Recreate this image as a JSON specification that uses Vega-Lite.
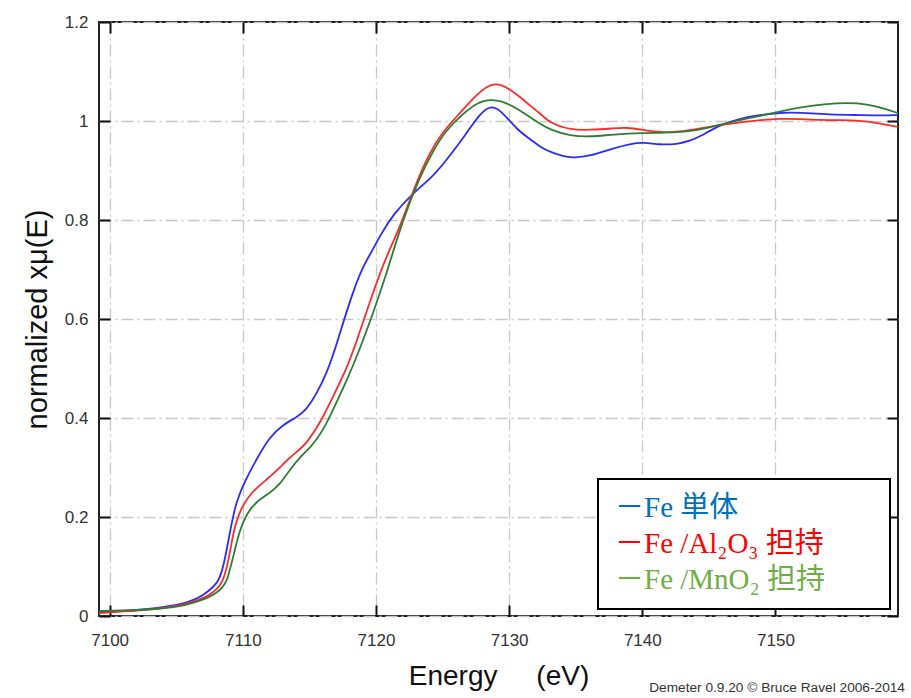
{
  "$schema": "https://vega.github.io/schema/vega-lite/v6.json",
  "autosize": "none",
  "padding": {"left": 99, "top": 22, "right": 13, "bottom": 82},
  "width": 799,
  "height": 594,
  "background": "#ffffff",
  "title": {
    "text": "Demeter 0.9.20 © Bruce Ravel 2006-2014",
    "orient": "bottom",
    "anchor": "end",
    "frame": "group",
    "offset": -9,
    "dx": 7,
    "fontSize": 13.7,
    "fontWeight": "normal",
    "font": "Liberation Sans",
    "color": "#333333"
  },
  "datasets": {
    "xanes": [
      {"E": 7099.2, "v": 0.008, "s": "Fe 単体"},
      {"E": 7101.0, "v": 0.010, "s": "Fe 単体"},
      {"E": 7103.0, "v": 0.014, "s": "Fe 単体"},
      {"E": 7104.3, "v": 0.019, "s": "Fe 単体"},
      {"E": 7105.5, "v": 0.025, "s": "Fe 単体"},
      {"E": 7106.3, "v": 0.032, "s": "Fe 単体"},
      {"E": 7107.0, "v": 0.042, "s": "Fe 単体"},
      {"E": 7107.5, "v": 0.052, "s": "Fe 単体"},
      {"E": 7108.0, "v": 0.065, "s": "Fe 単体"},
      {"E": 7108.3, "v": 0.078, "s": "Fe 単体"},
      {"E": 7108.64, "v": 0.112, "s": "Fe 単体"},
      {"E": 7109.0, "v": 0.165, "s": "Fe 単体"},
      {"E": 7109.26, "v": 0.200, "s": "Fe 単体"},
      {"E": 7109.5, "v": 0.228, "s": "Fe 単体"},
      {"E": 7110.0, "v": 0.263, "s": "Fe 単体"},
      {"E": 7110.5, "v": 0.290, "s": "Fe 単体"},
      {"E": 7111.0, "v": 0.315, "s": "Fe 単体"},
      {"E": 7112.0, "v": 0.362, "s": "Fe 単体"},
      {"E": 7113.0, "v": 0.386, "s": "Fe 単体"},
      {"E": 7114.0, "v": 0.401, "s": "Fe 単体"},
      {"E": 7114.7, "v": 0.414, "s": "Fe 単体"},
      {"E": 7115.5, "v": 0.447, "s": "Fe 単体"},
      {"E": 7116.3, "v": 0.490, "s": "Fe 単体"},
      {"E": 7117.0, "v": 0.545, "s": "Fe 単体"},
      {"E": 7117.5, "v": 0.590, "s": "Fe 単体"},
      {"E": 7118.3, "v": 0.657, "s": "Fe 単体"},
      {"E": 7119.0, "v": 0.705, "s": "Fe 単体"},
      {"E": 7119.8, "v": 0.742, "s": "Fe 単体"},
      {"E": 7120.3, "v": 0.768, "s": "Fe 単体"},
      {"E": 7121.3, "v": 0.812, "s": "Fe 単体"},
      {"E": 7122.8, "v": 0.855, "s": "Fe 単体"},
      {"E": 7124.3, "v": 0.888, "s": "Fe 単体"},
      {"E": 7125.5, "v": 0.928, "s": "Fe 単体"},
      {"E": 7126.8, "v": 0.975, "s": "Fe 単体"},
      {"E": 7127.8, "v": 1.015, "s": "Fe 単体"},
      {"E": 7128.7, "v": 1.033, "s": "Fe 単体"},
      {"E": 7129.5, "v": 1.018, "s": "Fe 単体"},
      {"E": 7130.6, "v": 0.982, "s": "Fe 単体"},
      {"E": 7131.6, "v": 0.963, "s": "Fe 単体"},
      {"E": 7132.3, "v": 0.948, "s": "Fe 単体"},
      {"E": 7133.1, "v": 0.937, "s": "Fe 単体"},
      {"E": 7134.6, "v": 0.924, "s": "Fe 単体"},
      {"E": 7136.1, "v": 0.929, "s": "Fe 単体"},
      {"E": 7137.8, "v": 0.945, "s": "Fe 単体"},
      {"E": 7139.1, "v": 0.954, "s": "Fe 単体"},
      {"E": 7140.1, "v": 0.957, "s": "Fe 単体"},
      {"E": 7141.3, "v": 0.952, "s": "Fe 単体"},
      {"E": 7142.6, "v": 0.953, "s": "Fe 単体"},
      {"E": 7143.6, "v": 0.960, "s": "Fe 単体"},
      {"E": 7144.3, "v": 0.968, "s": "Fe 単体"},
      {"E": 7145.8, "v": 0.992, "s": "Fe 単体"},
      {"E": 7147.3, "v": 1.005, "s": "Fe 単体"},
      {"E": 7148.8, "v": 1.012, "s": "Fe 単体"},
      {"E": 7150.3, "v": 1.017, "s": "Fe 単体"},
      {"E": 7151.8, "v": 1.017, "s": "Fe 単体"},
      {"E": 7154.1, "v": 1.013, "s": "Fe 単体"},
      {"E": 7156.3, "v": 1.012, "s": "Fe 単体"},
      {"E": 7157.9, "v": 1.011, "s": "Fe 単体"},
      {"E": 7159.2, "v": 1.012, "s": "Fe 単体"},

      {"E": 7099.2, "v": 0.006, "s": "Fe /Al₂O₃ 担持"},
      {"E": 7101.0, "v": 0.009, "s": "Fe /Al₂O₃ 担持"},
      {"E": 7103.0, "v": 0.013, "s": "Fe /Al₂O₃ 担持"},
      {"E": 7104.3, "v": 0.017, "s": "Fe /Al₂O₃ 担持"},
      {"E": 7105.5, "v": 0.023, "s": "Fe /Al₂O₃ 担持"},
      {"E": 7106.3, "v": 0.029, "s": "Fe /Al₂O₃ 担持"},
      {"E": 7107.0, "v": 0.036, "s": "Fe /Al₂O₃ 担持"},
      {"E": 7107.5, "v": 0.043, "s": "Fe /Al₂O₃ 担持"},
      {"E": 7108.0, "v": 0.053, "s": "Fe /Al₂O₃ 担持"},
      {"E": 7108.5, "v": 0.068, "s": "Fe /Al₂O₃ 担持"},
      {"E": 7108.9, "v": 0.108, "s": "Fe /Al₂O₃ 担持"},
      {"E": 7109.26, "v": 0.165, "s": "Fe /Al₂O₃ 担持"},
      {"E": 7109.6, "v": 0.200, "s": "Fe /Al₂O₃ 担持"},
      {"E": 7110.1, "v": 0.228, "s": "Fe /Al₂O₃ 担持"},
      {"E": 7110.5, "v": 0.243, "s": "Fe /Al₂O₃ 担持"},
      {"E": 7111.0, "v": 0.258, "s": "Fe /Al₂O₃ 担持"},
      {"E": 7111.8, "v": 0.276, "s": "Fe /Al₂O₃ 担持"},
      {"E": 7112.5, "v": 0.292, "s": "Fe /Al₂O₃ 担持"},
      {"E": 7113.5, "v": 0.320, "s": "Fe /Al₂O₃ 担持"},
      {"E": 7114.3, "v": 0.337, "s": "Fe /Al₂O₃ 担持"},
      {"E": 7114.8, "v": 0.350, "s": "Fe /Al₂O₃ 担持"},
      {"E": 7115.8, "v": 0.389, "s": "Fe /Al₂O₃ 担持"},
      {"E": 7116.8, "v": 0.445, "s": "Fe /Al₂O₃ 担持"},
      {"E": 7117.8, "v": 0.500, "s": "Fe /Al₂O₃ 担持"},
      {"E": 7118.5, "v": 0.551, "s": "Fe /Al₂O₃ 担持"},
      {"E": 7119.5, "v": 0.632, "s": "Fe /Al₂O₃ 担持"},
      {"E": 7120.4, "v": 0.700, "s": "Fe /Al₂O₃ 担持"},
      {"E": 7121.0, "v": 0.739, "s": "Fe /Al₂O₃ 担持"},
      {"E": 7121.8, "v": 0.786, "s": "Fe /Al₂O₃ 担持"},
      {"E": 7123.0, "v": 0.874, "s": "Fe /Al₂O₃ 担持"},
      {"E": 7124.0, "v": 0.935, "s": "Fe /Al₂O₃ 担持"},
      {"E": 7125.0, "v": 0.978, "s": "Fe /Al₂O₃ 担持"},
      {"E": 7126.3, "v": 1.016, "s": "Fe /Al₂O₃ 担持"},
      {"E": 7127.6, "v": 1.055, "s": "Fe /Al₂O₃ 担持"},
      {"E": 7128.8, "v": 1.080, "s": "Fe /Al₂O₃ 担持"},
      {"E": 7130.05, "v": 1.066, "s": "Fe /Al₂O₃ 担持"},
      {"E": 7131.4, "v": 1.035, "s": "Fe /Al₂O₃ 担持"},
      {"E": 7132.3, "v": 1.016, "s": "Fe /Al₂O₃ 担持"},
      {"E": 7133.1, "v": 0.995, "s": "Fe /Al₂O₃ 担持"},
      {"E": 7134.6, "v": 0.982, "s": "Fe /Al₂O₃ 担持"},
      {"E": 7136.1, "v": 0.982, "s": "Fe /Al₂O₃ 担持"},
      {"E": 7137.8, "v": 0.985, "s": "Fe /Al₂O₃ 担持"},
      {"E": 7138.8, "v": 0.987, "s": "Fe /Al₂O₃ 担持"},
      {"E": 7140.1, "v": 0.982, "s": "Fe /Al₂O₃ 担持"},
      {"E": 7141.3, "v": 0.977, "s": "Fe /Al₂O₃ 担持"},
      {"E": 7142.8, "v": 0.978, "s": "Fe /Al₂O₃ 担持"},
      {"E": 7144.3, "v": 0.985, "s": "Fe /Al₂O₃ 担持"},
      {"E": 7146.6, "v": 0.995, "s": "Fe /Al₂O₃ 担持"},
      {"E": 7148.6, "v": 1.001, "s": "Fe /Al₂O₃ 担持"},
      {"E": 7150.3, "v": 1.005, "s": "Fe /Al₂O₃ 担持"},
      {"E": 7151.8, "v": 1.004, "s": "Fe /Al₂O₃ 担持"},
      {"E": 7153.3, "v": 1.002, "s": "Fe /Al₂O₃ 担持"},
      {"E": 7154.8, "v": 1.002, "s": "Fe /Al₂O₃ 担持"},
      {"E": 7156.3, "v": 1.001, "s": "Fe /Al₂O₃ 担持"},
      {"E": 7157.9, "v": 0.995, "s": "Fe /Al₂O₃ 担持"},
      {"E": 7159.2, "v": 0.988, "s": "Fe /Al₂O₃ 担持"},

      {"E": 7099.2, "v": 0.010, "s": "Fe /MnO₂ 担持"},
      {"E": 7101.0, "v": 0.011, "s": "Fe /MnO₂ 担持"},
      {"E": 7103.0, "v": 0.013, "s": "Fe /MnO₂ 担持"},
      {"E": 7104.3, "v": 0.016, "s": "Fe /MnO₂ 担持"},
      {"E": 7105.5, "v": 0.021, "s": "Fe /MnO₂ 担持"},
      {"E": 7106.3, "v": 0.027, "s": "Fe /MnO₂ 担持"},
      {"E": 7107.0, "v": 0.033, "s": "Fe /MnO₂ 担持"},
      {"E": 7107.5, "v": 0.039, "s": "Fe /MnO₂ 担持"},
      {"E": 7108.0, "v": 0.046, "s": "Fe /MnO₂ 担持"},
      {"E": 7108.5, "v": 0.058, "s": "Fe /MnO₂ 担持"},
      {"E": 7108.8, "v": 0.072, "s": "Fe /MnO₂ 担持"},
      {"E": 7109.0, "v": 0.090, "s": "Fe /MnO₂ 担持"},
      {"E": 7109.4, "v": 0.133, "s": "Fe /MnO₂ 担持"},
      {"E": 7109.77, "v": 0.174, "s": "Fe /MnO₂ 担持"},
      {"E": 7110.3, "v": 0.207, "s": "Fe /MnO₂ 担持"},
      {"E": 7111.0, "v": 0.231, "s": "Fe /MnO₂ 担持"},
      {"E": 7112.0, "v": 0.248, "s": "Fe /MnO₂ 担持"},
      {"E": 7112.8, "v": 0.266, "s": "Fe /MnO₂ 担持"},
      {"E": 7113.5, "v": 0.295, "s": "Fe /MnO₂ 担持"},
      {"E": 7114.5, "v": 0.327, "s": "Fe /MnO₂ 担持"},
      {"E": 7115.0, "v": 0.338, "s": "Fe /MnO₂ 担持"},
      {"E": 7116.0, "v": 0.372, "s": "Fe /MnO₂ 担持"},
      {"E": 7117.0, "v": 0.430, "s": "Fe /MnO₂ 担持"},
      {"E": 7117.8, "v": 0.475, "s": "Fe /MnO₂ 担持"},
      {"E": 7118.8, "v": 0.540, "s": "Fe /MnO₂ 担持"},
      {"E": 7119.8, "v": 0.613, "s": "Fe /MnO₂ 担持"},
      {"E": 7120.8, "v": 0.692, "s": "Fe /MnO₂ 担持"},
      {"E": 7122.0, "v": 0.800, "s": "Fe /MnO₂ 担持"},
      {"E": 7123.3, "v": 0.888, "s": "Fe /MnO₂ 担持"},
      {"E": 7124.3, "v": 0.941, "s": "Fe /MnO₂ 担持"},
      {"E": 7125.3, "v": 0.982, "s": "Fe /MnO₂ 担持"},
      {"E": 7126.3, "v": 1.009, "s": "Fe /MnO₂ 担持"},
      {"E": 7127.6, "v": 1.038, "s": "Fe /MnO₂ 担持"},
      {"E": 7128.7, "v": 1.045, "s": "Fe /MnO₂ 担持"},
      {"E": 7130.05, "v": 1.035, "s": "Fe /MnO₂ 担持"},
      {"E": 7131.3, "v": 1.012, "s": "Fe /MnO₂ 担持"},
      {"E": 7132.3, "v": 0.995, "s": "Fe /MnO₂ 担持"},
      {"E": 7133.1, "v": 0.982, "s": "Fe /MnO₂ 担持"},
      {"E": 7134.6, "v": 0.970, "s": "Fe /MnO₂ 担持"},
      {"E": 7136.1, "v": 0.968, "s": "Fe /MnO₂ 担持"},
      {"E": 7137.8, "v": 0.973, "s": "Fe /MnO₂ 担持"},
      {"E": 7140.1, "v": 0.976, "s": "Fe /MnO₂ 担持"},
      {"E": 7141.8, "v": 0.976, "s": "Fe /MnO₂ 担持"},
      {"E": 7143.3, "v": 0.978, "s": "Fe /MnO₂ 担持"},
      {"E": 7144.8, "v": 0.985, "s": "Fe /MnO₂ 担持"},
      {"E": 7146.8, "v": 0.999, "s": "Fe /MnO₂ 担持"},
      {"E": 7148.6, "v": 1.009, "s": "Fe /MnO₂ 担持"},
      {"E": 7150.3, "v": 1.019, "s": "Fe /MnO₂ 担持"},
      {"E": 7152.1, "v": 1.029, "s": "Fe /MnO₂ 担持"},
      {"E": 7153.6, "v": 1.034, "s": "Fe /MnO₂ 担持"},
      {"E": 7155.4, "v": 1.037, "s": "Fe /MnO₂ 担持"},
      {"E": 7156.9, "v": 1.034, "s": "Fe /MnO₂ 担持"},
      {"E": 7158.1, "v": 1.026, "s": "Fe /MnO₂ 担持"},
      {"E": 7159.2, "v": 1.016, "s": "Fe /MnO₂ 担持"}
    ]
  },
  "data": {"name": "xanes"},
  "layer": [
    {
      "mark": {"type": "line", "interpolate": "basis", "strokeWidth": 1.8, "clip": true},
      "encoding": {
        "x": {
          "field": "E", "type": "quantitative",
          "scale": {"domain": [7099.2, 7159.2], "nice": false, "zero": false},
          "axis": {
            "orient": "bottom",
            "values": [7100, 7110, 7120, 7130, 7140, 7150],
            "format": "d",
            "title": "Energy\u00a0\u00a0\u00a0\u00a0\u00a0(eV)",
            "titlePadding": 14,
            "labelPadding": 27
          }
        },
        "y": {
          "field": "v", "type": "quantitative",
          "scale": {"domain": [0, 1.2], "nice": false},
          "axis": {
            "orient": "left",
            "values": [0, 0.2, 0.4, 0.6, 0.8, 1, 1.2],
            "format": "~g",
            "title": "normalized xμ(E)",
            "titleFontSize": 29,
            "titlePadding": 12,
            "labelPadding": 22
          }
        },
        "color": {
          "field": "s", "type": "nominal",
          "scale": {
            "domain": ["Fe 単体", "Fe /Al₂O₃ 担持", "Fe /MnO₂ 担持"],
            "range": ["#2b2bff", "#ff2b2b", "#2e7d32"]
          },
          "legend": {
            "orient": "none",
            "legendX": 499,
            "legendY": 457,
            "title": null,
            "padding": 14,
            "strokeColor": "#000000",
            "fillColor": "#ffffff",
            "symbolType": "circle",
            "symbolSize": 1,
            "symbolOpacity": 0,
            "symbolStrokeWidth": 0,
            "symbolOffset": 0,
            "labelOffset": -26,
            "labelFont": "Liberation Serif, Noto Sans CJK JP",
            "labelFontSize": 29,
            "labelLimit": 500,
            "rowPadding": 6,
            "labelExpr": "'－' + datum.label + '\u00a0\u00a0\u00a0\u00a0\u00a0\u00a0\u00a0\u200b'",
            "labelColor": {"expr": "indexof(datum.value, '単体') >= 0 ? '#0070C0' : (indexof(datum.value, 'Al') >= 0 ? '#FF0000' : '#70AD47')"}
          }
        },
        "detail": {"field": "s"}
      }
    },
    {
      "mark": {"type": "line", "opacity": 0},
      "encoding": {
        "x": {
          "field": "E", "type": "quantitative",
          "axis": {"orient": "top", "values": [7100, 7110, 7120, 7130, 7140, 7150], "labels": false, "grid": false, "title": null}
        },
        "y": {
          "field": "v", "type": "quantitative",
          "axis": {"orient": "right", "values": [0, 0.2, 0.4, 0.6, 0.8, 1, 1.2], "labels": false, "grid": false, "title": null}
        },
        "detail": {"field": "s"}
      }
    }
  ],
  "resolve": {"axis": {"x": "independent", "y": "independent"}},
  "config": {
    "font": "Liberation Sans",
    "view": {"stroke": "#222222", "strokeWidth": 2},
    "axis": {
      "domain": false,
      "grid": true,
      "gridColor": "#c8c8c8",
      "gridDash": [12, 4, 2, 4],
      "gridWidth": 1.3,
      "ticks": true,
      "tickSize": -11,
      "tickColor": "#111111",
      "tickWidth": 2,
      "labelFont": "Liberation Sans",
      "labelFontSize": 17,
      "labelColor": "#333333",
      "titleFont": "Liberation Sans",
      "titleFontSize": 28,
      "titleFontWeight": "normal",
      "titleColor": "#111111"
    },
    "legend": {"strokeWidth": 2}
  }
}
